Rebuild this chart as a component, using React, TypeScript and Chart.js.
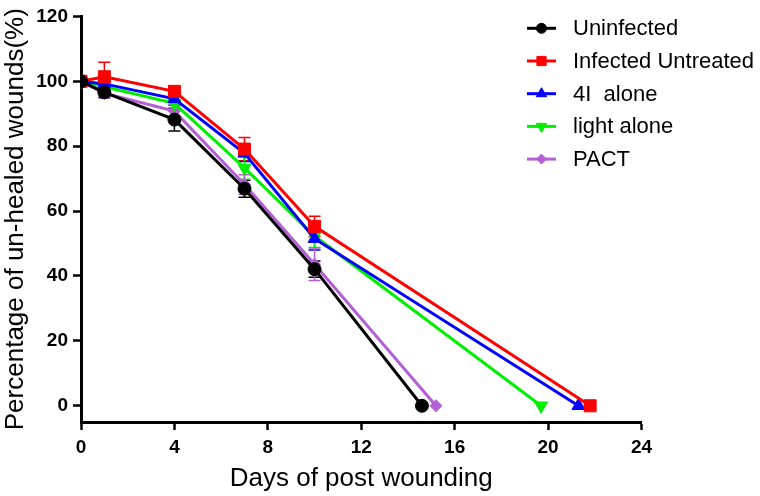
import React, { useEffect, useRef } from 'react';
import { Chart, registerables } from 'chart.js';
import { drawPoint } from 'chart.js/helpers';

Chart.register(...registerables);

// ---- data ----
const seriesNames = ['Uninfected', 'Infected Untreated', '4I  alone', 'light alone', 'PACT'];

const uninfectedDays = [0, 1, 4, 7, 10, 14.6];
const uninfectedPct = [100, 96.6, 88.2, 66.9, 42.1, 0];
const uninfectedErr = [0, 1.5, 3.5, 2.6, 2.5, 0];

const untreatedDays = [0, 1, 4, 7, 10, 21.8];
const untreatedPct = [100, 101.4, 96.9, 79.1, 55.3, 0];
const untreatedErr = [0, 4.5, 1.5, 3.6, 3.1, 0];

const fourIDays = [0, 1, 4, 7, 10, 21.3];
const fourIPct = [100, 99.2, 94.6, 77.8, 51.5, 0];
const fourIErr = [0, 1.5, 2, 2.5, 3.5, 0];

const lightDays = [0, 1, 4, 7, 10, 19.7];
const lightPct = [100, 98.3, 93.2, 73.3, 52.3, 0];
const lightErr = [0, 1.5, 2, 3.5, 3.5, 0];

const pactDays = [0, 1, 4, 7, 10, 15.2];
const pactPct = [100, 96.3, 90.8, 68.2, 43.6, 0];
const pactErr = [0, 1.5, 2, 3, 5, 0];

const xTickValues = [0, 4, 8, 12, 16, 20, 24];
const yTickValues = [0, 20, 40, 60, 80, 100, 120];

const xTitle = 'Days of post wounding';
const yTitle = 'Percentage of un-healed wounds(%)';

// ---- styles ----
const FONT = "'Liberation Sans', Arial, Helvetica, sans-serif";
const seriesStyles = [
  { color: '#000000', pointStyle: 'circle', rotation: 0, radius: 6.5, legendRadius: 5 },
  { color: '#ff0000', pointStyle: 'rect', rotation: 0, radius: 8.5, legendRadius: 6.5 },
  { color: '#0000ff', pointStyle: 'triangle', rotation: 0, radius: 7.5, legendRadius: 6 },
  { color: '#00ee00', pointStyle: 'triangle', rotation: 180, radius: 7.5, legendRadius: 6 },
  { color: '#b360d6', pointStyle: 'rectRot', rotation: 0, radius: 6, legendRadius: 5 },
];

const seriesData = [
  [uninfectedDays, uninfectedPct, uninfectedErr],
  [untreatedDays, untreatedPct, untreatedErr],
  [fourIDays, fourIPct, fourIErr],
  [lightDays, lightPct, lightErr],
  [pactDays, pactPct, pactErr],
];

const errorBarPlugin = {
  id: 'errorBars',
  beforeDatasetsDraw(chart: any) {
    const ctx = chart.ctx;
    const yScale = chart.scales.y;
    chart.data.datasets.forEach((ds: any, i: number) => {
      const meta = chart.getDatasetMeta(i);
      const errs = ds.errorBars || [];
      ctx.save();
      ctx.strokeStyle = ds.borderColor;
      ctx.lineWidth = 1.5;
      meta.data.forEach((pt: any, j: number) => {
        const e = errs[j];
        if (!e) return;
        const v = ds.data[j].y;
        const yTop = yScale.getPixelForValue(v + e);
        const yBot = yScale.getPixelForValue(v - e);
        ctx.beginPath();
        ctx.moveTo(pt.x, yTop);
        ctx.lineTo(pt.x, yBot);
        ctx.moveTo(pt.x - 6, yTop);
        ctx.lineTo(pt.x + 6, yTop);
        ctx.moveTo(pt.x - 6, yBot);
        ctx.lineTo(pt.x + 6, yBot);
        ctx.stroke();
      });
      ctx.restore();
    });
  },
};

const legendPlugin = {
  id: 'customLegend',
  afterDraw(chart: any) {
    const ctx = chart.ctx;
    ctx.save();
    seriesNames.forEach((name, i) => {
      const st = seriesStyles[i];
      const y = 28.3 + i * 32.7;
      ctx.strokeStyle = st.color;
      ctx.fillStyle = st.color;
      ctx.lineWidth = 3;
      ctx.beginPath();
      ctx.moveTo(527, y);
      ctx.lineTo(556, y);
      ctx.stroke();
      ctx.lineWidth = 1;
      drawPoint(ctx, { pointStyle: st.pointStyle, rotation: st.rotation, radius: st.legendRadius, borderWidth: 1 } as any, 541.5, y);
      ctx.fillStyle = '#000000';
      ctx.font = `22px ${FONT}`;
      ctx.textAlign = 'left';
      ctx.textBaseline = 'middle';
      ctx.fillText(name, 573, y + 1);
    });
    ctx.restore();
  },
};

export default function App() {
  const canvasRef = useRef<HTMLCanvasElement | null>(null);

  useEffect(() => {
    const canvas = canvasRef.current;
    if (!canvas) return;
    const datasets = seriesData.map(([xs, ys, errs], i) => {
      const st = seriesStyles[i];
      return {
        label: seriesNames[i],
        data: xs.map((x, k) => ({ x, y: ys[k] })),
        errorBars: errs,
        borderColor: st.color,
        backgroundColor: st.color,
        pointBackgroundColor: st.color,
        pointBorderColor: st.color,
        pointBorderWidth: 1,
        pointStyle: st.pointStyle,
        pointRotation: st.rotation,
        pointRadius: st.radius,
        borderWidth: 3,
        tension: 0,
        fill: false,
      };
    });

    const chart = new Chart(canvas, {
      type: 'line',
      data: { datasets } as any,
      options: {
        animation: false,
        responsive: false,
        devicePixelRatio: 1,
        layout: { autoPadding: false, padding: { left: 0, top: 11.5, right: 118.5, bottom: 0 } } as any,
        plugins: { legend: { display: false }, tooltip: { enabled: false } },
        scales: {
          x: {
            type: 'linear',
            min: 0,
            max: 24,
            afterFit(scale: any) { scale.height = 74; },
            afterBuildTicks(scale: any) { scale.ticks = xTickValues.map((v) => ({ value: v })); },
            ticks: {
              color: '#000',
              font: { family: FONT, size: 19, weight: 'bold' },
              padding: 6,
              maxRotation: 0,
            },
            grid: { display: true, drawOnChartArea: false, drawTicks: true, tickLength: 8, tickWidth: 2.5, tickColor: '#000' },
            border: { display: true, color: '#000', width: 3 },
            title: { display: true, text: xTitle, color: '#000', font: { family: FONT, size: 26 }, padding: { top: 0, bottom: 2 } },
          },
          y: {
            type: 'linear',
            min: -5,
            max: 120,
            afterFit(scale: any) { scale.width = 81; },
            afterBuildTicks(scale: any) { scale.ticks = yTickValues.map((v) => ({ value: v })); },
            ticks: {
              color: '#000',
              font: { family: FONT, size: 19, weight: 'bold' },
              padding: 5,
            },
            grid: { display: true, drawOnChartArea: false, drawTicks: true, tickLength: 8, tickWidth: 2.5, tickColor: '#000' },
            border: { display: true, color: '#000', width: 3 },
            title: { display: true, text: yTitle, color: '#000', font: { family: FONT, size: 26 }, padding: { top: 0, bottom: 0 } },
          },
        },
      } as any,
      plugins: [errorBarPlugin, legendPlugin],
    });
    return () => chart.destroy();
  }, []);

  return (
    <div style={{ position: 'absolute', left: 0, top: 0, width: 760, height: 496, background: '#fff' }}>
      <canvas ref={canvasRef} width={760} height={496} style={{ display: 'block', width: 760, height: 496 }} />
    </div>
  );
}
